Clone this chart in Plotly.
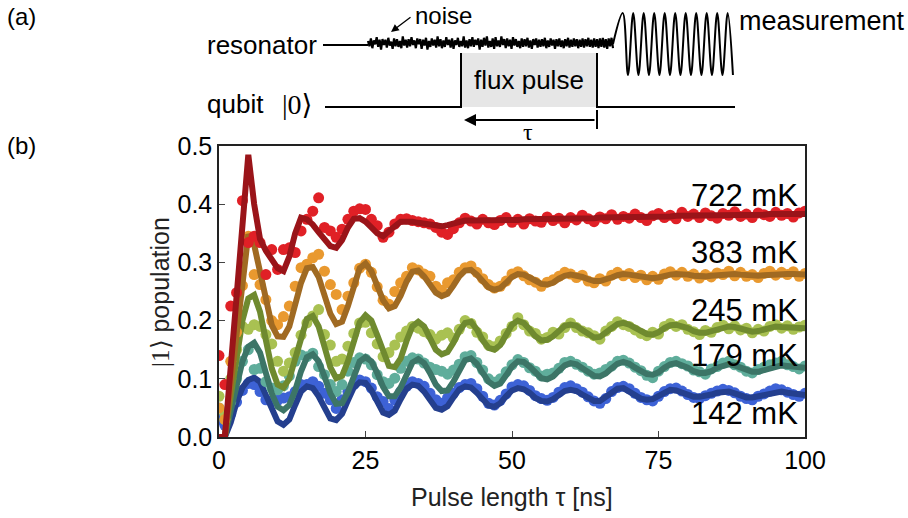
import plotly.graph_objects as go

# ---------------- data ----------------
tau = list(range(0, 101))

red_data = [0.14, 0.09, 0.225, 0.248, 0.406, 0.334, 0.345, 0.334, 0.279, 0.322,
            0.288, 0.322, 0.325, 0.317, 0.354, 0.374, 0.388, 0.411, 0.36, 0.354,
            0.343, 0.357, 0.374, 0.388, 0.392, 0.391, 0.374, 0.363, 0.343, 0.352,
            0.366, 0.374, 0.375, 0.372, 0.37, 0.368, 0.366, 0.36, 0.352, 0.348,
            0.358, 0.368, 0.376, 0.371, 0.366, 0.374, 0.368, 0.365, 0.372, 0.377,
            0.369, 0.374, 0.366, 0.375, 0.371, 0.369, 0.378, 0.372, 0.376, 0.368,
            0.377, 0.373, 0.381, 0.375, 0.37, 0.378, 0.375, 0.382, 0.374, 0.379,
            0.376, 0.383, 0.377, 0.372, 0.38, 0.384, 0.377, 0.381, 0.375, 0.386,
            0.379, 0.383, 0.377, 0.385, 0.38, 0.376, 0.384, 0.381, 0.387, 0.379,
            0.383, 0.377, 0.385, 0.382, 0.379, 0.386, 0.381, 0.384, 0.378, 0.385,
            0.388]
red_fit = [0, 0, 0.12, 0.24, 0.365, 0.485, 0.40, 0.34, 0.32, 0.305,
           0.29, 0.285, 0.31, 0.35, 0.377, 0.374, 0.365, 0.352, 0.34, 0.328,
           0.325, 0.338, 0.36, 0.375, 0.376, 0.37, 0.36, 0.35, 0.345, 0.352,
           0.362, 0.37, 0.371, 0.37, 0.368, 0.366, 0.364, 0.362, 0.362, 0.364,
           0.367, 0.37, 0.372, 0.372, 0.372, 0.372, 0.371, 0.371, 0.371, 0.372,
           0.373, 0.373, 0.374, 0.374, 0.374, 0.374, 0.374, 0.375, 0.375, 0.375,
           0.375, 0.376, 0.376, 0.376, 0.376, 0.377, 0.377, 0.377, 0.377, 0.378,
           0.378, 0.378, 0.378, 0.378, 0.379, 0.379, 0.379, 0.379, 0.38, 0.38,
           0.38, 0.38, 0.38, 0.381, 0.381, 0.381, 0.381, 0.381, 0.382, 0.382,
           0.382, 0.382, 0.382, 0.382, 0.383, 0.383, 0.383, 0.383, 0.383, 0.383,
           0.383]

orange_data = [0.05, 0.03, 0.13, 0.18, 0.26, 0.345, 0.279, 0.262, 0.236, 0.2,
               0.193, 0.207, 0.225, 0.259, 0.291, 0.297, 0.308, 0.314, 0.285, 0.262,
               0.245, 0.219, 0.242, 0.265, 0.29, 0.297, 0.283, 0.258, 0.235, 0.228,
               0.25, 0.265, 0.276, 0.291, 0.287, 0.28, 0.276, 0.259, 0.252, 0.265,
               0.27, 0.283, 0.291, 0.294, 0.283, 0.272, 0.262, 0.256, 0.259, 0.268,
               0.28, 0.284, 0.277, 0.27, 0.266, 0.259, 0.266, 0.27, 0.276, 0.283,
               0.28, 0.274, 0.278, 0.268, 0.265, 0.272, 0.268, 0.278, 0.283, 0.277,
               0.281, 0.274, 0.278, 0.27, 0.276, 0.271, 0.28, 0.284, 0.278, 0.283,
               0.276, 0.28, 0.273, 0.279, 0.275, 0.282, 0.279, 0.285, 0.277, 0.283,
               0.276, 0.279, 0.274, 0.281, 0.285, 0.278, 0.283, 0.279, 0.284, 0.276,
               0.281]
orange_fit = [0, 0, 0.09, 0.18, 0.27, 0.348, 0.33, 0.28, 0.23, 0.192,
              0.173, 0.172, 0.19, 0.225, 0.265, 0.29, 0.292, 0.275, 0.245, 0.212,
              0.194, 0.198, 0.225, 0.26, 0.29, 0.298, 0.285, 0.26, 0.235, 0.221,
              0.225, 0.243, 0.267, 0.284, 0.286, 0.276, 0.261, 0.248, 0.242, 0.246,
              0.26, 0.276, 0.286, 0.287, 0.279, 0.267, 0.257, 0.253, 0.256, 0.265,
              0.275, 0.28, 0.279, 0.274, 0.267, 0.263, 0.262, 0.265, 0.272, 0.277,
              0.279, 0.278, 0.275, 0.271, 0.268, 0.268, 0.27, 0.274, 0.278, 0.28,
              0.279, 0.277, 0.275, 0.273, 0.273, 0.274, 0.277, 0.279, 0.28, 0.28,
              0.279, 0.277, 0.276, 0.276, 0.277, 0.278, 0.28, 0.28, 0.28, 0.279,
              0.278, 0.277, 0.277, 0.278, 0.279, 0.28, 0.28, 0.28, 0.28, 0.279,
              0.279]

green_data = [0.07, 0.04, 0.1, 0.15, 0.19, 0.185, 0.193, 0.19, 0.176, 0.16,
              0.13, 0.113, 0.127, 0.145, 0.175, 0.196, 0.208, 0.219, 0.176, 0.158,
              0.13, 0.134, 0.156, 0.178, 0.196, 0.197, 0.179, 0.16, 0.138, 0.145,
              0.158, 0.172, 0.182, 0.19, 0.187, 0.181, 0.176, 0.168, 0.175, 0.179,
              0.17, 0.185, 0.2, 0.195, 0.18, 0.172, 0.158, 0.155, 0.165, 0.178,
              0.19, 0.205, 0.193, 0.182, 0.178, 0.168, 0.171, 0.18, 0.177, 0.188,
              0.196, 0.188, 0.182, 0.179, 0.174, 0.168, 0.182, 0.19, 0.198, 0.193,
              0.19, 0.184, 0.178, 0.174, 0.18, 0.177, 0.19, 0.195, 0.19, 0.193,
              0.185, 0.181, 0.176, 0.183, 0.18, 0.188, 0.192, 0.186, 0.191, 0.184,
              0.187, 0.179, 0.185, 0.182, 0.19, 0.193, 0.187, 0.191, 0.185, 0.189,
              0.192]
green_fit = [0, 0, 0.07, 0.14, 0.2, 0.238, 0.244, 0.215, 0.165, 0.118,
             0.09, 0.085, 0.1, 0.135, 0.175, 0.203, 0.208, 0.19, 0.155, 0.12,
             0.101, 0.105, 0.13, 0.165, 0.197, 0.209, 0.2, 0.175, 0.145, 0.122,
             0.12, 0.135, 0.165, 0.19, 0.198, 0.19, 0.17, 0.15, 0.142, 0.146,
             0.162, 0.182, 0.196, 0.198, 0.185, 0.166, 0.153, 0.15, 0.158, 0.175,
             0.193, 0.2, 0.196, 0.185, 0.173, 0.166, 0.167, 0.173, 0.183, 0.191,
             0.193, 0.191, 0.184, 0.176, 0.171, 0.172, 0.178, 0.187, 0.194, 0.196,
             0.193, 0.187, 0.181, 0.177, 0.176, 0.18, 0.187, 0.192, 0.193, 0.191,
             0.187, 0.182, 0.179, 0.179, 0.182, 0.186, 0.189, 0.19, 0.189, 0.186,
             0.183, 0.181, 0.182, 0.185, 0.189, 0.19, 0.189, 0.188, 0.187, 0.187,
             0.187]

teal_data = [0.05, 0.03, 0.06, 0.1, 0.13, 0.15, 0.116, 0.118, 0.095, 0.084,
             0.081, 0.088, 0.105, 0.13, 0.141, 0.138, 0.144, 0.121, 0.107, 0.09,
             0.078, 0.09, 0.113, 0.128, 0.136, 0.134, 0.124, 0.107, 0.095, 0.092,
             0.101, 0.118, 0.13, 0.136, 0.134, 0.127, 0.12, 0.116, 0.113, 0.108,
             0.115, 0.125, 0.138, 0.14, 0.128, 0.115, 0.1, 0.094, 0.1, 0.112,
             0.124, 0.133, 0.128, 0.119, 0.113, 0.105, 0.108, 0.11, 0.118, 0.128,
             0.13, 0.125, 0.12, 0.113, 0.108, 0.11, 0.116, 0.122, 0.13, 0.132,
             0.127, 0.12, 0.114, 0.106, 0.102, 0.113, 0.121, 0.128, 0.13, 0.126,
             0.122, 0.115, 0.112, 0.108, 0.117, 0.121, 0.127, 0.13, 0.124, 0.12,
             0.113, 0.11, 0.116, 0.12, 0.124, 0.127, 0.13, 0.124, 0.121, 0.117,
             0.122]
teal_fit = [0, 0, 0.045, 0.09, 0.13, 0.155, 0.162, 0.145, 0.11, 0.075,
            0.052, 0.046, 0.055, 0.08, 0.113, 0.137, 0.142, 0.13, 0.104, 0.075,
            0.057, 0.058, 0.077, 0.105, 0.13, 0.137, 0.13, 0.11, 0.086, 0.07,
            0.07, 0.085, 0.108, 0.128, 0.134, 0.127, 0.11, 0.09, 0.079, 0.08,
            0.095, 0.116, 0.132, 0.135, 0.126, 0.11, 0.095, 0.088, 0.092, 0.106,
            0.121, 0.13, 0.129, 0.121, 0.11, 0.101, 0.099, 0.104, 0.114, 0.123,
            0.127, 0.125, 0.118, 0.11, 0.105, 0.104, 0.109, 0.118, 0.126, 0.129,
            0.126, 0.119, 0.112, 0.108, 0.107, 0.111, 0.119, 0.125, 0.127, 0.124,
            0.119, 0.113, 0.11, 0.11, 0.113, 0.119, 0.123, 0.125, 0.123, 0.119,
            0.114, 0.112, 0.112, 0.115, 0.119, 0.122, 0.123, 0.122, 0.121, 0.12,
            0.119]

blue_data = [0.03, 0.02, 0.04, 0.06, 0.08, 0.092, 0.09, 0.078, 0.064, 0.061,
             0.063, 0.067, 0.069, 0.078, 0.09, 0.09, 0.095, 0.087, 0.075, 0.064,
             0.049, 0.064, 0.078, 0.09, 0.098, 0.095, 0.084, 0.069, 0.061, 0.049,
             0.064, 0.078, 0.087, 0.095, 0.092, 0.087, 0.075, 0.064, 0.058, 0.067,
             0.075, 0.085, 0.09, 0.092, 0.083, 0.07, 0.058, 0.055, 0.063, 0.074,
             0.086, 0.09, 0.088, 0.08, 0.071, 0.066, 0.063, 0.068, 0.077, 0.085,
             0.088, 0.083, 0.077, 0.069, 0.062, 0.058, 0.066, 0.078, 0.085, 0.087,
             0.083, 0.075, 0.068, 0.064, 0.062, 0.07, 0.078, 0.083, 0.084, 0.079,
             0.073, 0.068, 0.066, 0.071, 0.075, 0.079, 0.082, 0.08, 0.076, 0.07,
             0.066, 0.064, 0.07, 0.074, 0.079, 0.083, 0.081, 0.077, 0.073, 0.07,
             0.075]
blue_fit = [0, 0, 0.025, 0.06, 0.085, 0.098, 0.102, 0.095, 0.072, 0.047,
            0.027, 0.021, 0.03, 0.055, 0.078, 0.087, 0.084, 0.07, 0.048, 0.032,
            0.029, 0.04, 0.063, 0.085, 0.094, 0.093, 0.08, 0.058, 0.042, 0.038,
            0.045, 0.065, 0.083, 0.09, 0.088, 0.078, 0.062, 0.05, 0.047, 0.053,
            0.068, 0.082, 0.087, 0.085, 0.076, 0.063, 0.054, 0.052, 0.058, 0.07,
            0.08, 0.084, 0.082, 0.076, 0.067, 0.062, 0.061, 0.065, 0.073, 0.079,
            0.081, 0.079, 0.073, 0.066, 0.062, 0.062, 0.068, 0.077, 0.083, 0.084,
            0.079, 0.072, 0.066, 0.064, 0.065, 0.07, 0.077, 0.081, 0.08, 0.076,
            0.072, 0.069, 0.069, 0.07, 0.073, 0.076, 0.078, 0.078, 0.075, 0.071,
            0.068, 0.068, 0.07, 0.073, 0.076, 0.078, 0.078, 0.076, 0.074, 0.072,
            0.072]

temp_labels = ["142 mK", "179 mK", "245 mK", "383 mK", "722 mK"]
label_y = [0.04, 0.14, 0.217, 0.317, 0.415]

x_ticks = [0, 25, 50, 75, 100]
y_ticks = [0.0, 0.1, 0.2, 0.3, 0.4, 0.5]

# schematic decorations (relative amplitudes, hand-drawn)
noise = [0.3, -0.5, 0.7, -0.8, 0.4, -0.2, 0.9, -0.6, 0.5, -1.0, 0.6, -0.3, 0.5, -0.7, 0.8, -0.4, 0.2, -0.9, 0.7, -0.5,
         0.6, -0.6, 0.3, -0.8, 1.0, -0.4, 0.5, -0.7, 0.6, -0.5, 0.9, -0.3, 0.4, -0.8, 0.7, -0.2, 0.6, -0.9, 0.5, -0.4,
         0.8, -1.0, 0.3, -0.6, 0.7, -0.4, 0.5, -0.7, 1.0, -0.5, 0.6, -0.8, 0.4, -0.6, 0.9, -0.3, 0.5, -0.7, 0.7, -0.9,
         0.4, -0.3, 0.8, -0.6, 0.3, -0.5, 1.0, -0.7, 0.4, -0.8, 0.6, -0.5, 0.9, -0.6, 0.5, -0.3, 0.7, -1.0, 0.5, -0.6,
         0.8, -0.4, 1.0, -0.7, 0.3, -0.6, 0.7, -0.9, 0.9, -0.5, 0.4, -0.6, 1.0, -0.3, 0.6, -0.8, 0.7, -0.5, 0.5, -0.9,
         0.9, -0.4, 0.6, -0.6, 0.3, -0.8, 0.7, -0.6, 0.6, -0.5, 0.8, -0.7, 0.4, -0.9, 0.6, -0.3, 0.7, -0.7, 0.5, -0.6,
         0.6, -0.5, 0.8, -0.8, 0.4, -0.6, 0.7, -0.4, 0.5, -0.9, 0.6, -0.5, 0.7, -0.6, 0.4, -0.8, 0.6, -0.5, 0.8, -0.7,
         0.5, -0.6, 0.7, -0.5, 0.6, -0.8, 0.5, -0.6, 0.7, -0.7, 0.6, -0.5, 0.8, -0.6, 0.5, -0.7, 0.7, -0.6, 0.6, -0.8,
         0.7, -0.6, 0.8, -0.7, 0.6, -0.9, 0.7, -0.5, 0.8, -0.8]
meas = [0] + [1, -1] * 11

SANS = "Liberation Sans, Arial, Helvetica, sans-serif"
SERIF = "Liberation Serif, DejaVu Serif, serif"

series = [
    (blue_data, blue_fit, "#3d62d6", "#243f8e"),
    (teal_data, teal_fit, "#5fad9b", "#3c7567"),
    (green_data, green_fit, "#a9c152", "#6f8a2f"),
    (orange_data, orange_fit, "#e9992f", "#a06a22"),
    (red_data, red_fit, "#e02026", "#9a1419"),
]

fig = go.Figure()
for d, f, cd, cf in series:
    fig.add_trace(go.Scatter(x=tau, y=d, mode="markers",
                             marker=dict(size=11, color=cd, line=dict(width=0)),
                             showlegend=False, hoverinfo="skip"))
    fig.add_trace(go.Scatter(x=tau, y=f, mode="lines",
                             line=dict(color=cf, width=6),
                             showlegend=False, hoverinfo="skip"))

# ---------------- schematic (pixel-like overlay axes) ----------------
S = dict(xaxis="x2", yaxis="y2", showlegend=False, hoverinfo="skip")
BLK = dict(color="black", width=2)

nx = [368 + (613 - 368) * i / (len(noise) - 1) for i in range(len(noise))]
ny = [43 - 6.5 * v for v in noise]
mx = [613] + [622.7 + 5.25 * i for i in range(len(meas) - 1)]
my = [44 - 31 * v for v in meas]

fig.add_trace(go.Scatter(x=[461, 597, 597, 461, 461], y=[53, 53, 107, 107, 53],
                         fill="toself", fillcolor="#e6e6e6", mode="lines",
                         line=dict(width=0), **S))
fig.add_trace(go.Scatter(x=[323, 368], y=[45, 45], mode="lines", line=BLK, **S))
fig.add_trace(go.Scatter(x=nx, y=ny, mode="lines", line=dict(color="black", width=2.2), **S))
fig.add_trace(go.Scatter(x=mx, y=my, mode="lines", line=dict(color="black", width=2, shape="spline"), **S))
fig.add_trace(go.Scatter(x=[325, 461, 461], y=[107, 107, 53], mode="lines", line=BLK, **S))
fig.add_trace(go.Scatter(x=[597, 597, 735], y=[53, 107, 107], mode="lines", line=BLK, **S))
fig.add_trace(go.Scatter(x=[597, 597], y=[110, 129], mode="lines", line=BLK, **S))

ann = []
def txt(x, y, s, size=26, xanchor="left", yanchor="middle", family=SANS, **kw):
    ann.append(dict(x=x, y=y, xref="x2", yref="y2", text=s, showarrow=False,
                    xanchor=xanchor, yanchor=yanchor,
                    font=dict(family=family, size=size, color="black"), **kw))

txt(5, 16, "(a)", size=24)
txt(5, 145, "(b)", size=24)
txt(319, 45, "resonator", xanchor="right")
txt(205, 104, "qubit")
txt(280, 104, "|0⟩", size=28, family=SERIF)
txt(529, 80, "flux pulse", xanchor="center")
txt(413, 0, "noise", size=24, yanchor="top")
txt(737, 21, "measurement", size=27)
txt(528, 132, "τ", size=24, xanchor="center", family=SERIF)

# arrows
ann.append(dict(x=464, y=120, ax=596, ay=120, xref="x2", yref="y2", axref="x2", ayref="y2",
                text="", showarrow=True, arrowhead=2, arrowsize=1.2, arrowwidth=2, arrowcolor="black"))
ann.append(dict(x=391, y=32, ax=412, ay=16, xref="x2", yref="y2", axref="x2", ayref="y2",
                text="", showarrow=True, arrowhead=2, arrowsize=1.2, arrowwidth=1.3, arrowcolor="black"))

# temperature labels
for lab, ly in zip(temp_labels, label_y):
    ann.append(dict(x=99.2, y=ly, xref="x", yref="y", text=lab, showarrow=False,
                    xanchor="right", yanchor="middle",
                    font=dict(family=SANS, size=31, color="black")))

# axis titles
ann.append(dict(x=512, y=497, xref="x2", yref="y2", text="Pulse length τ [ns]", showarrow=False,
                xanchor="center", yanchor="middle", font=dict(family=SANS, size=25, color="#222")))
ann.append(dict(x=160, y=292, xref="x2", yref="y2", textangle=-90,
                text='<span style="font-family:Liberation Serif">|1⟩</span> population',
                showarrow=False, xanchor="center", yanchor="middle",
                font=dict(family=SANS, size=25, color="#222")))

W, H = 908, 518
fig.update_layout(
    template=None,
    width=W, height=H, autosize=False,
    margin=dict(l=0, r=0, t=0, b=0, pad=0, autoexpand=False),
    paper_bgcolor="white", plot_bgcolor="rgba(0,0,0,0)",
    annotations=ann,
    xaxis=dict(domain=[219 / W, 805 / W], range=[0, 100], tickvals=x_ticks, automargin=False,
               ticks="inside", ticklen=6, tickwidth=1.2, tickcolor="#444",
               showline=True, linecolor="#222", linewidth=1.5, mirror=True,
               showgrid=False, zeroline=False,
               tickfont=dict(family=SANS, size=25, color="black")),
    yaxis=dict(domain=[(H - 437) / H, (H - 146) / H], range=[0, 0.5], tickvals=y_ticks,
               automargin=False,
               tickformat=".1f", ticks="inside", ticklen=6, tickwidth=1.2, tickcolor="#444",
               showline=True, linecolor="#222", linewidth=1.5, mirror=True,
               showgrid=False, zeroline=False,
               tickfont=dict(family=SANS, size=25, color="black")),
    xaxis2=dict(domain=[0, 1], range=[0, W], anchor="y2", visible=False, fixedrange=True,
                automargin=False),
    yaxis2=dict(domain=[0, 1], range=[H, 0], anchor="x2", visible=False, fixedrange=True,
                automargin=False),
)

fig.write_html("out.html")
